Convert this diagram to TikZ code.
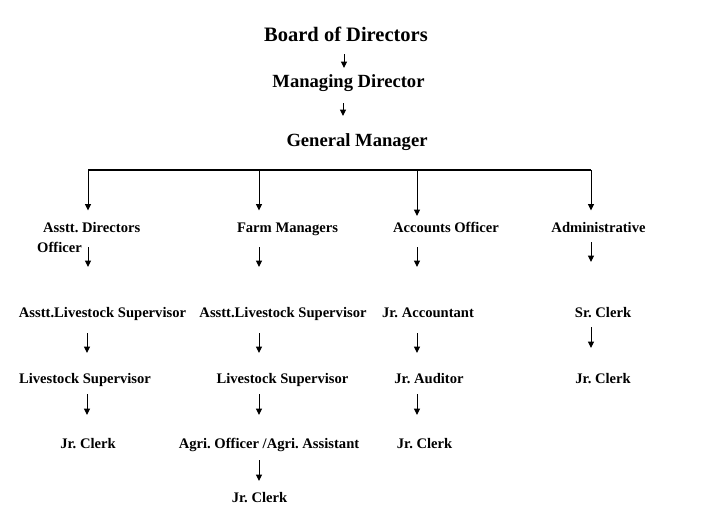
\documentclass[tikz,border=0pt]{standalone}
\usepackage{fontspec}
\setmainfont{Liberation Serif}
\usetikzlibrary{arrows.meta}
\frenchspacing
\begin{document}
\begin{tikzpicture}[x=1pt,y=1pt,
  lbl/.style={inner sep=0pt,anchor=base,font=\bfseries\fontsize{14.6}{17}\selectfont},
  lblw/.style={lbl,anchor=base west},
  big/.style={inner sep=0pt,anchor=base,font=\bfseries\fontsize{20.5}{24}\selectfont},
  mid/.style={inner sep=0pt,anchor=base,font=\bfseries\fontsize{18.6}{22}\selectfont},
  arr/.style={line width=1pt,-{Triangle[length=6.5pt,width=6pt]}},
  bar/.style={line width=1.2pt}]
\useasboundingbox (0,0) rectangle (708,-531);
% top chain
\node[big] (bod) at (346,-41) {Board of Directors};
\node[mid] (md) at (348.5,-87) {Managing Director};
\node[mid] (gm) at (357,-146) {General Manager};
% level 3
\node[lblw] (ad) at (43,-232) {Asstt. Directors};
\node[lblw] (off) at (37,-252) {Officer};
\node[lbl] (fm) at (287.5,-232) {Farm Managers};
\node[lbl] (ao) at (446,-232) {Accounts Officer};
\node[lbl] (adm) at (598.5,-232) {Administrative};
% level 4
\node[lbl] (als1) at (102.5,-317) {Asstt.Livestock Supervisor};
\node[lbl] (als2) at (283,-317) {Asstt.Livestock Supervisor};
\node[lbl] (ja) at (428,-317) {Jr. Accountant};
\node[lbl] (sc) at (603,-317) {Sr. Clerk};
% level 5
\node[lbl] (ls1) at (85,-383) {Livestock Supervisor};
\node[lbl] (ls2) at (282.5,-383) {Livestock Supervisor};
\node[lbl] (jau) at (429,-383) {Jr. Auditor};
\node[lbl] (jc4) at (603,-383) {Jr. Clerk};
% level 6
\node[lbl] (jc1) at (88,-448) {Jr. Clerk};
\node[lbl] (agri) at (269,-448) {Agri. Officer /Agri. Assistant};
\node[lbl] (jc3) at (424.5,-448) {Jr. Clerk};
% level 7
\node[lbl] (jc2) at (259.5,-502) {Jr. Clerk};
% arrow end coordinates
\coordinate (t1s) at (344,-54);  \coordinate (t1e) at (344,-68);
\coordinate (t2s) at (343,-103); \coordinate (t2e) at (343,-116);
\coordinate (h1) at (88,-170);  \coordinate (b1) at (88,-210.5);
\coordinate (h2) at (259,-170); \coordinate (b2) at (259,-210.5);
\coordinate (h3) at (417,-170); \coordinate (b3) at (417,-216);
\coordinate (h4) at (591,-170); \coordinate (b4) at (591,-210.5);
\coordinate (c1s) at (88,-247);  \coordinate (c1e) at (88,-267);
\coordinate (c2s) at (259,-247); \coordinate (c2e) at (259,-267);
\coordinate (c3s) at (417,-247); \coordinate (c3e) at (417,-267);
\coordinate (c4s) at (591,-242); \coordinate (c4e) at (591,-262);
\coordinate (d1s) at (87,-333);  \coordinate (d1e) at (87,-353);
\coordinate (d2s) at (259,-333); \coordinate (d2e) at (259,-353);
\coordinate (d3s) at (417,-333); \coordinate (d3e) at (417,-353);
\coordinate (d4s) at (591,-327); \coordinate (d4e) at (591,-348);
\coordinate (e1s) at (87,-394);  \coordinate (e1e) at (87,-415);
\coordinate (e2s) at (259,-394); \coordinate (e2e) at (259,-415);
\coordinate (e3s) at (417,-394); \coordinate (e3e) at (417,-415);
\coordinate (f2s) at (259,-460); \coordinate (f2e) at (259,-481);
% connectors
\draw[arr] (t1s) -- (t1e);
\draw[arr] (t2s) -- (t2e);
\draw[bar] (h1) -- (h4);
\draw[arr] (h1) -- (b1);
\draw[arr] (h2) -- (b2);
\draw[arr] (h3) -- (b3);
\draw[arr] (h4) -- (b4);
\foreach \p in {c1,c2,c3,c4,d1,d2,d3,d4,e1,e2,e3,f2}{
  \draw[arr] (\p s) -- (\p e);
}
\end{tikzpicture}
\end{document}
